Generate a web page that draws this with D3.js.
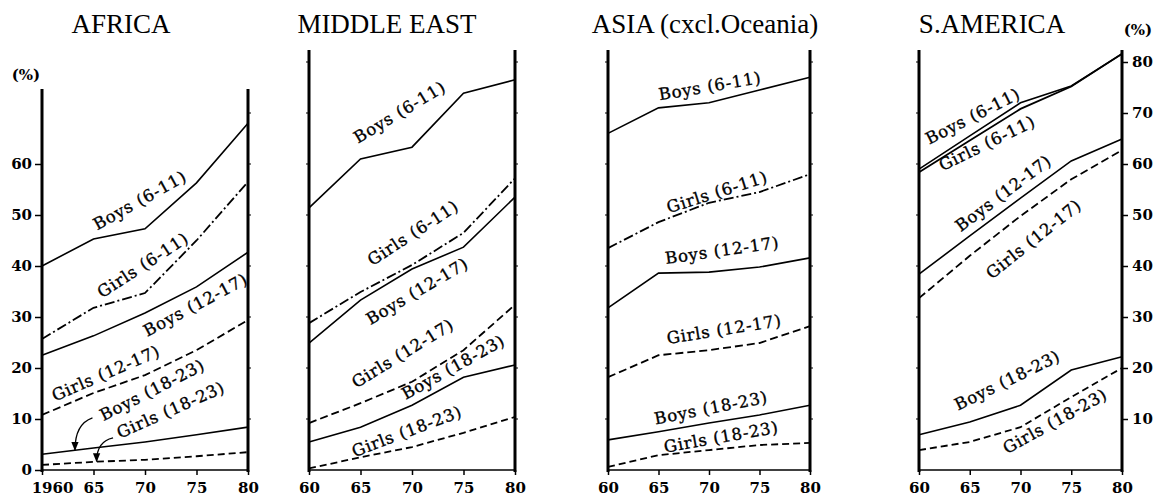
<!DOCTYPE html>
<html>
<head>
<meta charset="utf-8">
<script src="https://cdn.jsdelivr.net/npm/d3@7"></script>
<style>
  body { margin: 0; background: #fff; }
  svg { display: block; }
</style>
</head>
<body>
<svg id="chart" width="1161" height="500"></svg>
<script>
// enrolment ratios (%), 1960-1980
const years = [1960, 1965, 1970, 1975, 1980];
const seriesNames = ["Boys (6-11)", "Girls (6-11)", "Boys (12-17)", "Girls (12-17)", "Boys (18-23)", "Girls (18-23)"];

const africaValues = [
  [40, 45.3, 47.3, 56.3, 68],
  [25.7, 31.8, 34.7, 45, 56.5],
  [22.5, 26.3, 30.8, 35.9, 42.7],
  [10.8, 15.1, 18.6, 23.5, 29.4],
  [3.1, 4.3, 5.5, 6.9, 8.4],
  [1.0, 1.6, 2.0, 2.7, 3.5]
];
const middleEastValues = [
  [51.4, 61, 63.3, 73.9, 76.5],
  [28.8, 34.9, 40.2, 46.5, 57.2],
  [24.9, 33.3, 39.4, 43.7, 53.5],
  [9.2, 13.1, 17.3, 23.5, 32.4],
  [5.5, 8.4, 12.7, 18.2, 20.6],
  [0.3, 2.5, 4.5, 7.3, 10.4]
];
const asiaValues = [
  [66, 71, 72, 74.5, 77],
  [43.5, 48.6, 52.4, 54.5, 58],
  [31.8, 38.6, 38.8, 39.8, 41.6],
  [18.2, 22.5, 23.5, 24.9, 28.2],
  [5.9, 7.5, 9.2, 10.8, 12.7],
  [0.6, 2.9, 3.9, 4.9, 5.3]
];
const southAmericaValues = [
  [59, 65.5, 72, 75.3, 81.6],
  [58.4, 64.6, 70.8, 75.2, 81.6],
  [38.4, 45.9, 53.3, 60.6, 64.9],
  [33.7, 42, 49.8, 57, 62.7],
  [6.9, 9.4, 12.7, 19.6, 22.2],
  [3.9, 5.5, 8.4, 14.3, 20]
];

const africaXTicks = ["1960", "65", "70", "75", "80"];
const otherXTicks = ["60", "65", "70", "75", "80"];
const africaYTicks = [0, 10, 20, 30, 40, 50, 60];
const southAmericaYTicks = [10, 20, 30, 40, 50, 60, 70, 80];

// label anchors in data units: [years after 1960, value, rotation]
const africaLabelPos = [[9.5, 52.9, -29], [9.8, 40.2, -33], [14.9, 32.4, -28], [6.2, 19.0, -23.5], [10.7, 15.7, -27], [12.5, 11.8, -24]];
const middleEastLabelPos = [[8.8, 70.2, -31], [10.1, 46.5, -33], [10.5, 35.1, -30.5], [9.1, 22.9, -31.5], [14.0, 20.2, -29], [9.5, 7.6, -20.7]];
const asiaLabelPos = [[10.1, 75.3, -9.6], [10.8, 54.5, -17.5], [11.3, 43.1, -8], [11.5, 27.6, -9], [10.2, 12.2, -11], [11.2, 6.5, -10]];
const southAmericaLabelPos = [[5.3, 69.4, -27], [6.7, 64.1, -26], [8.3, 54.3, -37], [11.3, 45.3, -38.5], [8.7, 17.6, -26], [13.4, 9.6, -29]];

const dashes = [null, "10,3,2,3", null, "8,4", null, "7,4"];

const panels = [
  { title: "AFRICA", titleX: 121, left: 42, right: 248, top: 89, values: africaValues, labelPos: africaLabelPos, xTicks: africaXTicks },
  { title: "MIDDLE EAST", titleX: 387, left: 309, right: 515, top: 50, values: middleEastValues, labelPos: middleEastLabelPos, xTicks: otherXTicks },
  { title: "ASIA (cxcl.Oceania)", titleX: 705, left: 608, right: 810, top: 50, values: asiaValues, labelPos: asiaLabelPos, xTicks: otherXTicks },
  { title: "S.AMERICA", titleX: 992, left: 919, right: 1122, top: 50, values: southAmericaValues, labelPos: southAmericaLabelPos, xTicks: otherXTicks }
];

const svg = d3.select("#chart");
const serif = "'Liberation Serif', 'Times New Roman', serif";
const bodyFont = "'DejaVu Serif', serif";

const yScale = d3.scaleLinear().domain([0, 80]).range([470, 62]);
const bottom = yScale(0);

svg.append("defs").append("marker")
  .attr("id", "arrow")
  .attr("viewBox", "0 0 10 10")
  .attr("refX", 9).attr("refY", 5)
  .attr("markerWidth", 7).attr("markerHeight", 7)
  .attr("orient", "auto")
  .append("path")
  .attr("d", "M0,1 L10,5 L0,9 Z")
  .attr("fill", "#000");

panels.forEach((p, pi) => {
  const xScale = d3.scaleLinear().domain([1960, 1980]).range([p.left, p.right]);
  const g = svg.append("g");

  // title
  g.append("text")
    .attr("x", p.titleX).attr("y", 33)
    .attr("text-anchor", "middle")
    .attr("font-family", serif)
    .attr("font-size", 27)
    .text(p.title);

  // baseline + year ticks
  g.append("line")
    .attr("x1", p.left).attr("x2", p.right)
    .attr("y1", bottom).attr("y2", bottom)
    .attr("stroke", "#000").attr("stroke-width", 1.6);

  const xAxis = d3.axisBottom(xScale)
    .tickValues(years)
    .tickSize(5)
    .tickFormat((d, i) => p.xTicks[i]);
  const xg = g.append("g")
    .attr("transform", `translate(0,${bottom})`)
    .call(xAxis);
  xg.select(".domain").remove();
  xg.selectAll("line").attr("stroke-width", 1.5);
  xg.selectAll("text")
    .attr("font-family", bodyFont)
    .attr("font-weight", "bold")
    .attr("font-size", 15)
    .attr("dy", 15)
    .attr("dx", (d, i) => (pi === 0 && i === 0 ? 10 : 0));

  // vertical frame lines with small ticks
  [p.left, p.right].forEach((x, side) => {
    g.append("line")
      .attr("x1", x).attr("x2", x)
      .attr("y1", p.top).attr("y2", bottom + 2)
      .attr("stroke", "#000").attr("stroke-width", 3);
    const labelled = (pi === 0 && side === 0) || (pi === 3 && side === 1);
    if (!labelled) {
      const tv = d3.range(10, 81, 10).filter(v => yScale(v) > p.top + 4);
      g.selectAll(null).data(tv).enter().append("line")
        .attr("x1", side === 0 ? x - 3 : x).attr("x2", side === 0 ? x : x + 3)
        .attr("y1", d => yScale(d)).attr("y2", d => yScale(d))
        .attr("stroke", "#000").attr("stroke-width", 1);
    }
  });

  if (pi === 0) {
    const yg = g.append("g")
      .attr("transform", `translate(${p.left},0)`)
      .call(d3.axisLeft(yScale).tickValues(africaYTicks).tickSize(7).tickPadding(3));
    yg.select(".domain").remove();
    yg.selectAll("line").attr("stroke-width", 1.5);
    yg.selectAll("text")
      .attr("font-family", bodyFont).attr("font-weight", "bold").attr("font-size", 15);
    g.append("text")
      .attr("x", 26).attr("y", 80)
      .attr("text-anchor", "middle")
      .attr("font-family", bodyFont).attr("font-weight", "bold").attr("font-size", 15)
      .text("(%)");
  }
  if (pi === 3) {
    const yg = g.append("g")
      .attr("transform", `translate(${p.right},0)`)
      .call(d3.axisRight(yScale).tickValues(southAmericaYTicks).tickSize(6).tickPadding(4));
    yg.select(".domain").remove();
    yg.selectAll("line").attr("stroke-width", 1.5);
    yg.selectAll("text")
      .attr("font-family", bodyFont).attr("font-weight", "bold").attr("font-size", 15);
    g.append("text")
      .attr("x", 1138).attr("y", 35)
      .attr("text-anchor", "middle")
      .attr("font-family", bodyFont).attr("font-weight", "bold").attr("font-size", 15)
      .text("(%)");
  }

  // series lines
  const line = d3.line()
    .x((d, i) => xScale(years[i]))
    .y(d => yScale(d));

  g.selectAll(".series")
    .data(p.values)
    .enter()
    .append("path")
    .attr("class", "series")
    .attr("d", d => line(d))
    .attr("fill", "none")
    .attr("stroke", "#000")
    .attr("stroke-width", (d, i) => (i % 2 === 0 ? 1.6 : 1.8))
    .attr("stroke-dasharray", (d, i) => (pi === 3 && i === 1 ? null : dashes[i]));

  // rotated series labels
  g.selectAll(".lab")
    .data(p.labelPos)
    .enter()
    .append("text")
    .attr("class", "lab")
    .attr("transform", d => `translate(${xScale(1960 + d[0])},${yScale(d[1])}) rotate(${d[2]})`)
    .attr("text-anchor", "middle")
    .attr("dy", "0.35em")
    .attr("font-family", bodyFont)
    .attr("font-size", 16.5)
    .attr("letter-spacing", 0.8)
    .attr("stroke", "#000")
    .attr("stroke-width", 0.35)
    .text((d, i) => seriesNames[i]);

  // pointer arrows for the small African tertiary values
  if (pi === 0) {
    const arrows = [
      [[4.9, 10.2], [3.2, 9.0], [3.2, 3.9]],
      [[6.9, 6.3], [5.3, 5.6], [5.3, 1.7]]
    ];
    g.selectAll(".arr")
      .data(arrows)
      .enter()
      .append("path")
      .attr("d", d => `M${xScale(1960 + d[0][0])},${yScale(d[0][1])} Q${xScale(1960 + d[1][0])},${yScale(d[1][1])} ${xScale(1960 + d[2][0])},${yScale(d[2][1])}`)
      .attr("fill", "none")
      .attr("stroke", "#000")
      .attr("stroke-width", 1.3)
      .attr("marker-end", "url(#arrow)");
  }
});
</script>
</body>
</html>
